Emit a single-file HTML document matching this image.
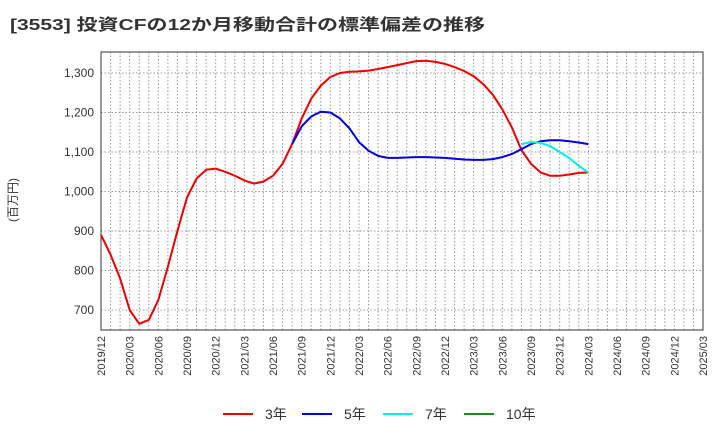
<!DOCTYPE html>
<html><head><meta charset="utf-8"><style>
body{margin:0;background:#fff;font-family:"Liberation Sans","Noto Sans CJK JP",sans-serif}
</style></head><body>
<svg id="c" width="720" height="440" xmlns="http://www.w3.org/2000/svg" style="font-family:'Liberation Sans','Noto Sans CJK JP',sans-serif">
<text x="10" y="30" font-size="16" font-weight="bold" fill="#333" textLength="475" lengthAdjust="spacingAndGlyphs">[3553]  投資CFの12か月移動合計の標準偏差の推移</text>
<text transform="translate(17,200) rotate(-90)" text-anchor="middle" font-size="12" fill="#333">(百万円)</text>
<g id="grid"></g><g id="axes"></g><g id="series"></g><g id="legend"></g>
</svg>
<script>
const yTicks=[700,800,900,1000,1100,1200,1300];
const xLabels=["2019/12","2020/03","2020/06","2020/09","2020/12","2021/03","2021/06","2021/09","2021/12","2022/03","2022/06","2022/09","2022/12","2023/03","2023/06","2023/09","2023/12","2024/03","2024/06","2024/09","2024/12","2025/03"];
const s3=[890,840,780,700,665,675,725,810,900,985,1033,1055,1058,1050,1040,1028,1020,1025,1040,1070,1120,1185,1235,1268,1290,1300,1303,1304,1306,1310,1315,1320,1325,1330,1331,1328,1323,1315,1305,1292,1272,1245,1208,1162,1105,1070,1048,1040,1040,1043,1047,1048];
const s5Start=20;
const s5=[1120,1165,1190,1202,1200,1185,1160,1125,1103,1090,1085,1085,1086,1087,1087,1086,1085,1083,1081,1080,1080,1082,1087,1095,1107,1120,1127,1130,1130,1127,1124,1120];
const s7Start=44;
const s7=[1120,1125,1123,1115,1100,1085,1065,1048];
const L=101,R=703,T=52,B=330,NS="http://www.w3.org/2000/svg";
const months=63;
const xs=i=>L+(R-L)*i/months;
const ys=v=>73+(1300-v)*(310-73)/600;
function mk(tag,attrs,parent){const e=document.createElementNS(NS,tag);for(const k in attrs)e.setAttribute(k,attrs[k]);document.getElementById(parent).appendChild(e);return e;}
for(let i=1;i<months;i++){const l=mk('line',{x1:xs(i),x2:xs(i),y1:T,y2:B,stroke:'#999','stroke-dasharray':'1.5,2','stroke-width':1},'grid');

}
yTicks.forEach(v=>{const l=mk('line',{x1:L,x2:R,y1:ys(v),y2:ys(v),stroke:'#999','stroke-dasharray':'1.5,2','stroke-width':1},'grid');


const t=mk('text',{x:L-7,y:ys(v)+4,'text-anchor':'end','font-size':12,fill:'#333'},'axes');t.textContent=v.toLocaleString('en-US');

});
const box=mk('rect',{x:L,y:T,width:R-L,height:B-T,fill:'none',stroke:'#333','stroke-width':1},'axes');


xLabels.forEach((lab,i)=>{const x=xs(i*3);const t=mk('text',{transform:`translate(${x+4},${B+6}) rotate(-90)`,'text-anchor':'end','font-size':11,fill:'#333'},'axes');t.textContent=lab;

});
function line(arr,start,color,name){const p=arr.map((v,i)=>(i?'L':'M')+xs(start+i).toFixed(1)+','+ys(v).toFixed(1)).join('');
const e=mk('path',{d:p,fill:'none',stroke:color,'stroke-width':2,'stroke-linejoin':'round'},'series');

}
line(s3,0,'#ee0000','series-3y');line(s5,s5Start,'#0000dd','series-5y');line(s7,s7Start,'#00eeee','series-7y');
const leg=[['3年','#ee0000',223],['5年','#0000dd',302],['7年','#00eeee',383],['10年','#228822',464]];
leg.forEach(([n,c,x])=>{const l=mk('line',{x1:x,x2:x+30,y1:414,y2:414,stroke:c,'stroke-width':2},'legend');


const t=mk('text',{x:x+42,y:419,'font-size':14,fill:'#333'},'legend');t.textContent=n;

});
</script>
</body></html>
